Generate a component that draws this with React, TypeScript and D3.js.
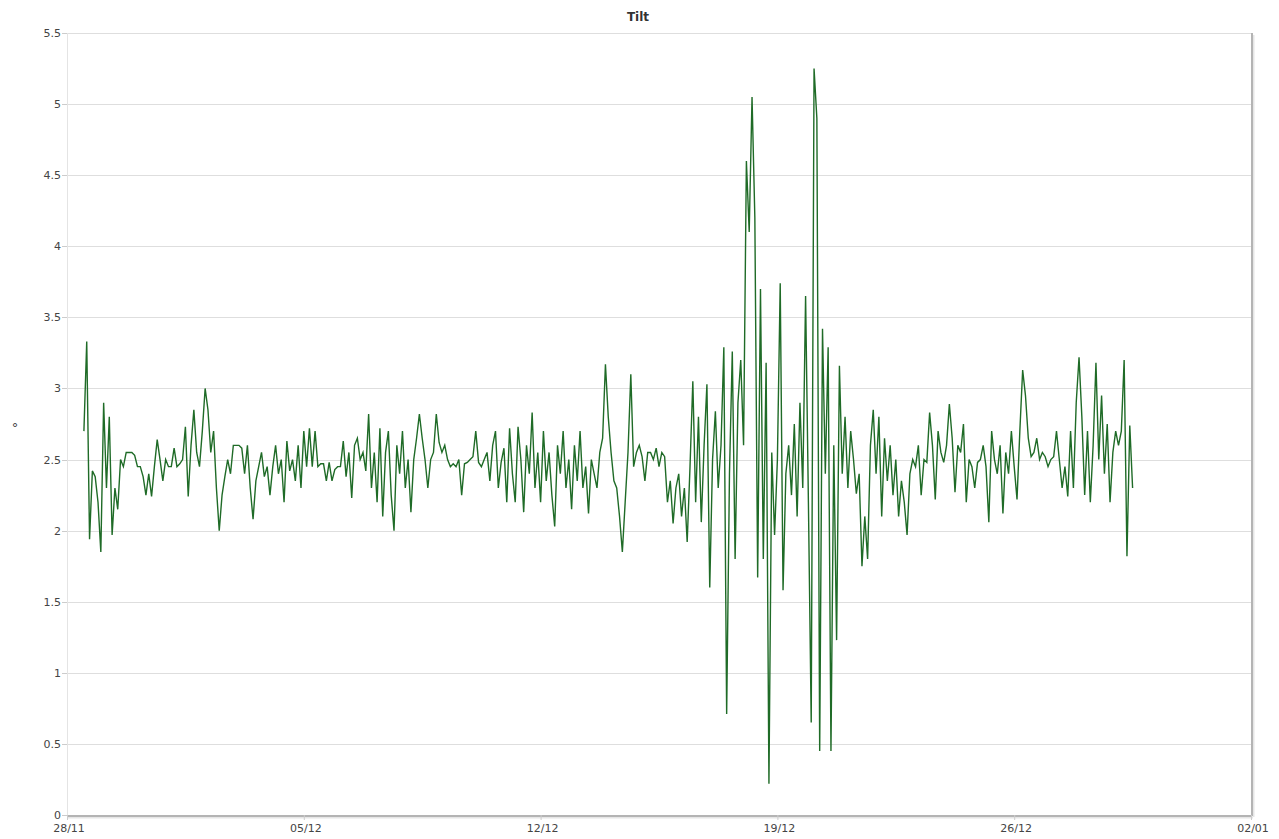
import React from "react";
import * as d3 from "d3";

// ---- data ----
const chartTitle = "Tilt";
const yAxisLabel = "°";
const xDomain = [new Date(2011, 10, 28), new Date(2012, 0, 2)];
const xTickDates = [
  new Date(2011, 10, 28),
  new Date(2011, 11, 5),
  new Date(2011, 11, 12),
  new Date(2011, 11, 19),
  new Date(2011, 11, 26),
  new Date(2012, 0, 2),
];
const yTicks = [0, 0.5, 1, 1.5, 2, 2.5, 3, 3.5, 4, 4.5, 5, 5.5];
const seriesStart = new Date(2011, 10, 28, 12);
const stepHours = 2;
const tiltValues = [
  // 28/11 pm
  2.70, 3.33, 1.94, 2.42, 2.38, 2.2, 1.85,
  // 29/11
  2.9, 2.3, 2.8, 1.97, 2.3, 2.15, 2.5, 2.45, 2.55, 2.55, 2.55, 2.53,
  // 30/11
  2.45, 2.45, 2.38, 2.25, 2.4, 2.24, 2.45, 2.64, 2.5, 2.35, 2.5, 2.45,
  // 01/12
  2.45, 2.58, 2.45, 2.47, 2.5, 2.73, 2.24, 2.6, 2.85, 2.55, 2.45, 2.7,
  // 02/12
  3.0, 2.85, 2.55, 2.7, 2.3, 2.0, 2.25, 2.38, 2.5, 2.4, 2.6, 2.6,
  // 03/12
  2.6, 2.58, 2.4, 2.6, 2.3, 2.08, 2.35, 2.45, 2.55, 2.38, 2.45, 2.25,
  // 04/12
  2.45, 2.6, 2.4, 2.5, 2.2, 2.63, 2.42, 2.5, 2.35, 2.6, 2.3, 2.7,
  // 05/12
  2.45, 2.72, 2.45, 2.7, 2.45, 2.47, 2.47, 2.35, 2.48, 2.35, 2.43, 2.45,
  // 06/12
  2.45, 2.63, 2.38, 2.55, 2.23, 2.6, 2.65, 2.5, 2.55, 2.42, 2.82, 2.3,
  // 07/12
  2.55, 2.2, 2.72, 2.1, 2.55, 2.7, 2.25, 2.0, 2.6, 2.4, 2.7, 2.3,
  // 08/12
  2.5, 2.13, 2.5, 2.65, 2.82, 2.65, 2.5, 2.3, 2.5, 2.55, 2.82, 2.62,
  // 09/12
  2.55, 2.6, 2.5, 2.45, 2.47, 2.45, 2.5, 2.25, 2.47, 2.48, 2.5, 2.52,
  // 10/12
  2.7, 2.48, 2.45, 2.5, 2.55, 2.35, 2.6, 2.7, 2.3, 2.48, 2.58, 2.2,
  // 11/12
  2.72, 2.4, 2.2, 2.73, 2.5, 2.13, 2.6, 2.4, 2.83, 2.3, 2.55, 2.2,
  // 12/12
  2.7, 2.35, 2.55, 2.25, 2.03, 2.6, 2.4, 2.7, 2.3, 2.5, 2.15, 2.6,
  // 13/12
  2.35, 2.7, 2.3, 2.45, 2.12, 2.5, 2.4, 2.3, 2.55, 2.65, 3.17, 2.8,
  // 14/12
  2.55, 2.35, 2.3, 2.1, 1.85, 2.2, 2.55, 3.1, 2.45, 2.55, 2.6, 2.52,
  // 15/12
  2.35, 2.55, 2.55, 2.5, 2.58, 2.45, 2.55, 2.52, 2.2, 2.35, 2.05, 2.3,
  // 16/12
  2.4, 2.1, 2.3, 1.92, 2.45, 3.05, 2.2, 2.8, 2.06, 2.6, 3.03, 1.6,
  // 17/12
  2.5, 2.84, 2.3, 2.6, 3.29, 0.71, 2.4, 3.26, 1.8, 2.9, 3.2, 2.6,
  // 18/12
  4.6, 4.1, 5.05, 4.2, 1.67, 3.7, 1.8, 3.18, 0.22, 2.55, 1.97, 2.5,
  // 19/12
  3.74, 1.58, 2.4, 2.6, 2.25, 2.75, 2.1, 2.9, 2.3, 3.65, 2.2, 0.65,
  // 20/12
  5.25, 4.9, 0.45, 3.42, 2.4, 3.29, 0.45, 2.6, 1.23, 3.16, 2.4, 2.8,
  // 21/12
  2.3, 2.7, 2.5, 2.26, 2.4, 1.75, 2.1, 1.8, 2.6, 2.85, 2.4, 2.8,
  // 22/12
  2.1, 2.65, 2.35, 2.6, 2.25, 2.5, 2.1, 2.35, 2.2, 1.97, 2.4, 2.5,
  // 23/12
  2.45, 2.6, 2.25, 2.5, 2.48, 2.83, 2.6, 2.22, 2.7, 2.55, 2.48, 2.6,
  // 24/12
  2.89, 2.65, 2.27, 2.6, 2.55, 2.75, 2.2, 2.5, 2.45, 2.3, 2.48, 2.5,
  // 25/12
  2.6, 2.45, 2.06, 2.7, 2.5, 2.4, 2.6, 2.12, 2.55, 2.4, 2.7, 2.45,
  // 26/12
  2.22, 2.7, 3.13, 2.95, 2.65, 2.52, 2.55, 2.65, 2.5, 2.55, 2.52, 2.45,
  // 27/12
  2.5, 2.52, 2.7, 2.5, 2.3, 2.45, 2.24, 2.7, 2.3, 2.9, 3.22, 2.8,
  // 28/12
  2.25, 2.7, 2.2, 2.6, 3.18, 2.5, 2.95, 2.4, 2.75, 2.2, 2.55, 2.7,
  // 29/12 am
  2.6, 2.7, 3.2, 1.82, 2.74, 2.3,
];

const W = 1279;
const H = 839;
const margin = { left: 67, right: 1251, top: 33, bottom: 815 };

export default function App() {
  const x = d3.scaleTime().domain(xDomain).range([margin.left, margin.right]);
  const y = d3.scaleLinear().domain([0, 5.5]).range([margin.bottom, margin.top]);
  const points = tiltValues.map((v, i) => ({
    t: d3.timeHour.offset(seriesStart, i * stepHours),
    v,
  }));
  const line = d3
    .line<{ t: Date; v: number }>()
    .x((d) => x(d.t))
    .y((d) => y(d.v));
  const fmt = d3.timeFormat("%d/%m");
  const font = "'DejaVu Sans', Verdana, sans-serif";

  return (
    <svg
      width={W}
      height={H}
      style={{ position: "absolute", left: 0, top: 0, background: "#fff" }}
      fontFamily={font}
    >
      <text x={638} y={21} textAnchor="middle" fontSize={12} fontWeight="bold" fill="#333">
        {chartTitle}
      </text>
      <text x={15} y={432} textAnchor="middle" fontSize={13} fill="#444">
        {yAxisLabel}
      </text>
      {/* gridlines */}
      {yTicks.map((t) => (
        <line
          key={"g" + t}
          x1={margin.left}
          x2={margin.right}
          y1={Math.round(y(t)) + 0.5}
          y2={Math.round(y(t)) + 0.5}
          stroke={t === 0 ? "none" : "#dedede"}
          strokeWidth={1}
        />
      ))}
      {/* left axis */}
      <line x1={margin.left + 0.5} x2={margin.left + 0.5} y1={margin.top} y2={margin.bottom} stroke="#e4e4e4" />
      {/* y ticks & labels */}
      {yTicks.map((t) => (
        <g key={"yt" + t}>
          <line
            x1={margin.left - 5}
            x2={margin.left}
            y1={Math.round(y(t)) + 0.5}
            y2={Math.round(y(t)) + 0.5}
            stroke="#ccc"
          />
          <text x={margin.left - 6} y={y(t) + 4} textAnchor="end" fontSize={11} fill="#444">
            {t}
          </text>
        </g>
      ))}
      {/* data line */}
      <path d={line(points) || ""} fill="none" stroke="#1f6b27" strokeWidth={1.4} strokeLinejoin="miter" />
      {/* bottom and right frame with shadow */}
      <line x1={margin.left} x2={margin.right + 2} y1={margin.bottom + 2.5} y2={margin.bottom + 2.5} stroke="#e6e6e6" strokeWidth={2} />
      <line x1={margin.right + 2.5} x2={margin.right + 2.5} y1={margin.top + 2} y2={margin.bottom + 2} stroke="#e6e6e6" strokeWidth={2} />
      <line x1={margin.left} x2={margin.right + 1} y1={margin.bottom + 1} y2={margin.bottom + 1} stroke="#b4b4b4" strokeWidth={2} />
      <line x1={margin.right + 1} x2={margin.right + 1} y1={margin.top} y2={margin.bottom + 1} stroke="#b4b4b4" strokeWidth={2} />
      {/* x ticks & labels */}
      {xTickDates.map((d, i) => (
        <g key={"xt" + i}>
          <line x1={x(d) + 0.5} x2={x(d) + 0.5} y1={margin.bottom} y2={margin.bottom + 5} stroke="#ccc" />
          <text x={x(d) + 2} y={832} textAnchor="middle" fontSize={11} fill="#444">
            {fmt(d)}
          </text>
        </g>
      ))}
    </svg>
  );
}
